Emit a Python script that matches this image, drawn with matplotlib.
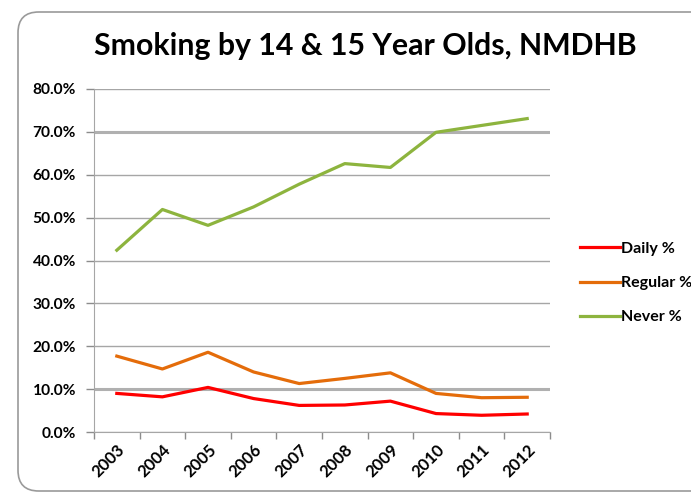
import matplotlib
matplotlib.use("Agg")
import matplotlib.pyplot as plt
from matplotlib.patches import FancyBboxPatch
from matplotlib.ticker import FixedLocator, PercentFormatter

years = ["2003", "2004", "2005", "2006", "2007", "2008", "2009", "2010", "2011", "2012"]
daily = [9.0, 8.2, 10.4, 7.8, 6.2, 6.3, 7.2, 4.3, 3.9, 4.2]
regular = [17.7, 14.7, 18.6, 14.0, 11.3, 12.5, 13.8, 9.0, 8.0, 8.1]
never = [42.4, 51.9, 48.2, 52.5, 57.8, 62.6, 61.7, 69.9, 71.5, 73.1]
series_names = ["Daily %", "Regular %", "Never %"]
colors = ["#FF0000", "#E46C0A", "#8DB43E"]

plt.rcParams['font.family'] = ['Lato', 'DejaVu Sans']

W, H = 691, 493
fig = plt.figure(figsize=(W / 100, H / 100), dpi=100)

# rounded outer frame
frame = FancyBboxPatch((18 / W, (H - 491) / H), 720 / W, (491 - 12) / H,
                       boxstyle="round,pad=0,rounding_size=0.03",
                       transform=fig.transFigure, facecolor="white",
                       edgecolor="#9A9A9A", linewidth=1.2, zorder=-5,
                       mutation_aspect=W / H)
fig.patches.append(frame)

ax = fig.add_axes([94 / W, (H - 432) / H, (550 - 94) / W, (432 - 89) / H])
ax.set_facecolor("none")

x = [i + 0.5 for i in range(len(years))]
for vals, name, c in zip([daily, regular, never], series_names, colors):
    ax.plot(x, [v / 100 for v in vals], color=c, lw=2.3, label=name,
            solid_joinstyle="round", zorder=3)

ax.set_xlim(0, len(years))
ax.set_ylim(0, 0.8)
ax.yaxis.set_major_locator(FixedLocator([i / 10 for i in range(9)]))
ax.yaxis.set_major_formatter(PercentFormatter(1.0, decimals=1))

ax.xaxis.set_major_locator(FixedLocator(list(range(len(years) + 1))))
ax.xaxis.set_major_formatter(plt.NullFormatter())
ax.set_xticks(x, minor=True)
ax.set_xticklabels(years, minor=True, rotation=45, ha="right",
                   rotation_mode="anchor", fontsize=12, fontweight="bold")
ax.tick_params(axis="x", which="minor", length=0, pad=7)
ax.tick_params(axis="x", which="major", length=5, color="#8C8C8C", width=1)
ax.tick_params(axis="y", length=6, color="#8C8C8C", width=1, pad=7,
               labelsize=11.2)
for lbl in ax.get_yticklabels():
    lbl.set_fontweight("bold")

ax.grid(axis="y", color="#A6A6A6", lw=1)
glines = ax.yaxis.get_gridlines()
for i, gl in enumerate(glines):
    if i in (1, 7):
        gl.set_linewidth(2.2)
        gl.set_color("#B0B0B0")
ax.set_axisbelow(True)
for s in ["top", "right"]:
    ax.spines[s].set_visible(False)
ax.spines["left"].set_color("#A6A6A6")
ax.spines["bottom"].set_color("#A6A6A6")

fig.text(365 / W, 1 - 46 / H, "Smoking by 14 & 15 Year Olds, NMDHB",
         ha="center", va="center", fontsize=21.8, fontweight="bold")

leg = ax.legend(loc="center left", bbox_to_anchor=(566 / W, 1 - 283 / H),
                bbox_transform=fig.transFigure, frameon=False,
                handlelength=2.45, handletextpad=0.08, labelspacing=1.25,
                prop={"size": 11.5, "weight": "bold"})

fig.savefig("out.png", dpi=100)
